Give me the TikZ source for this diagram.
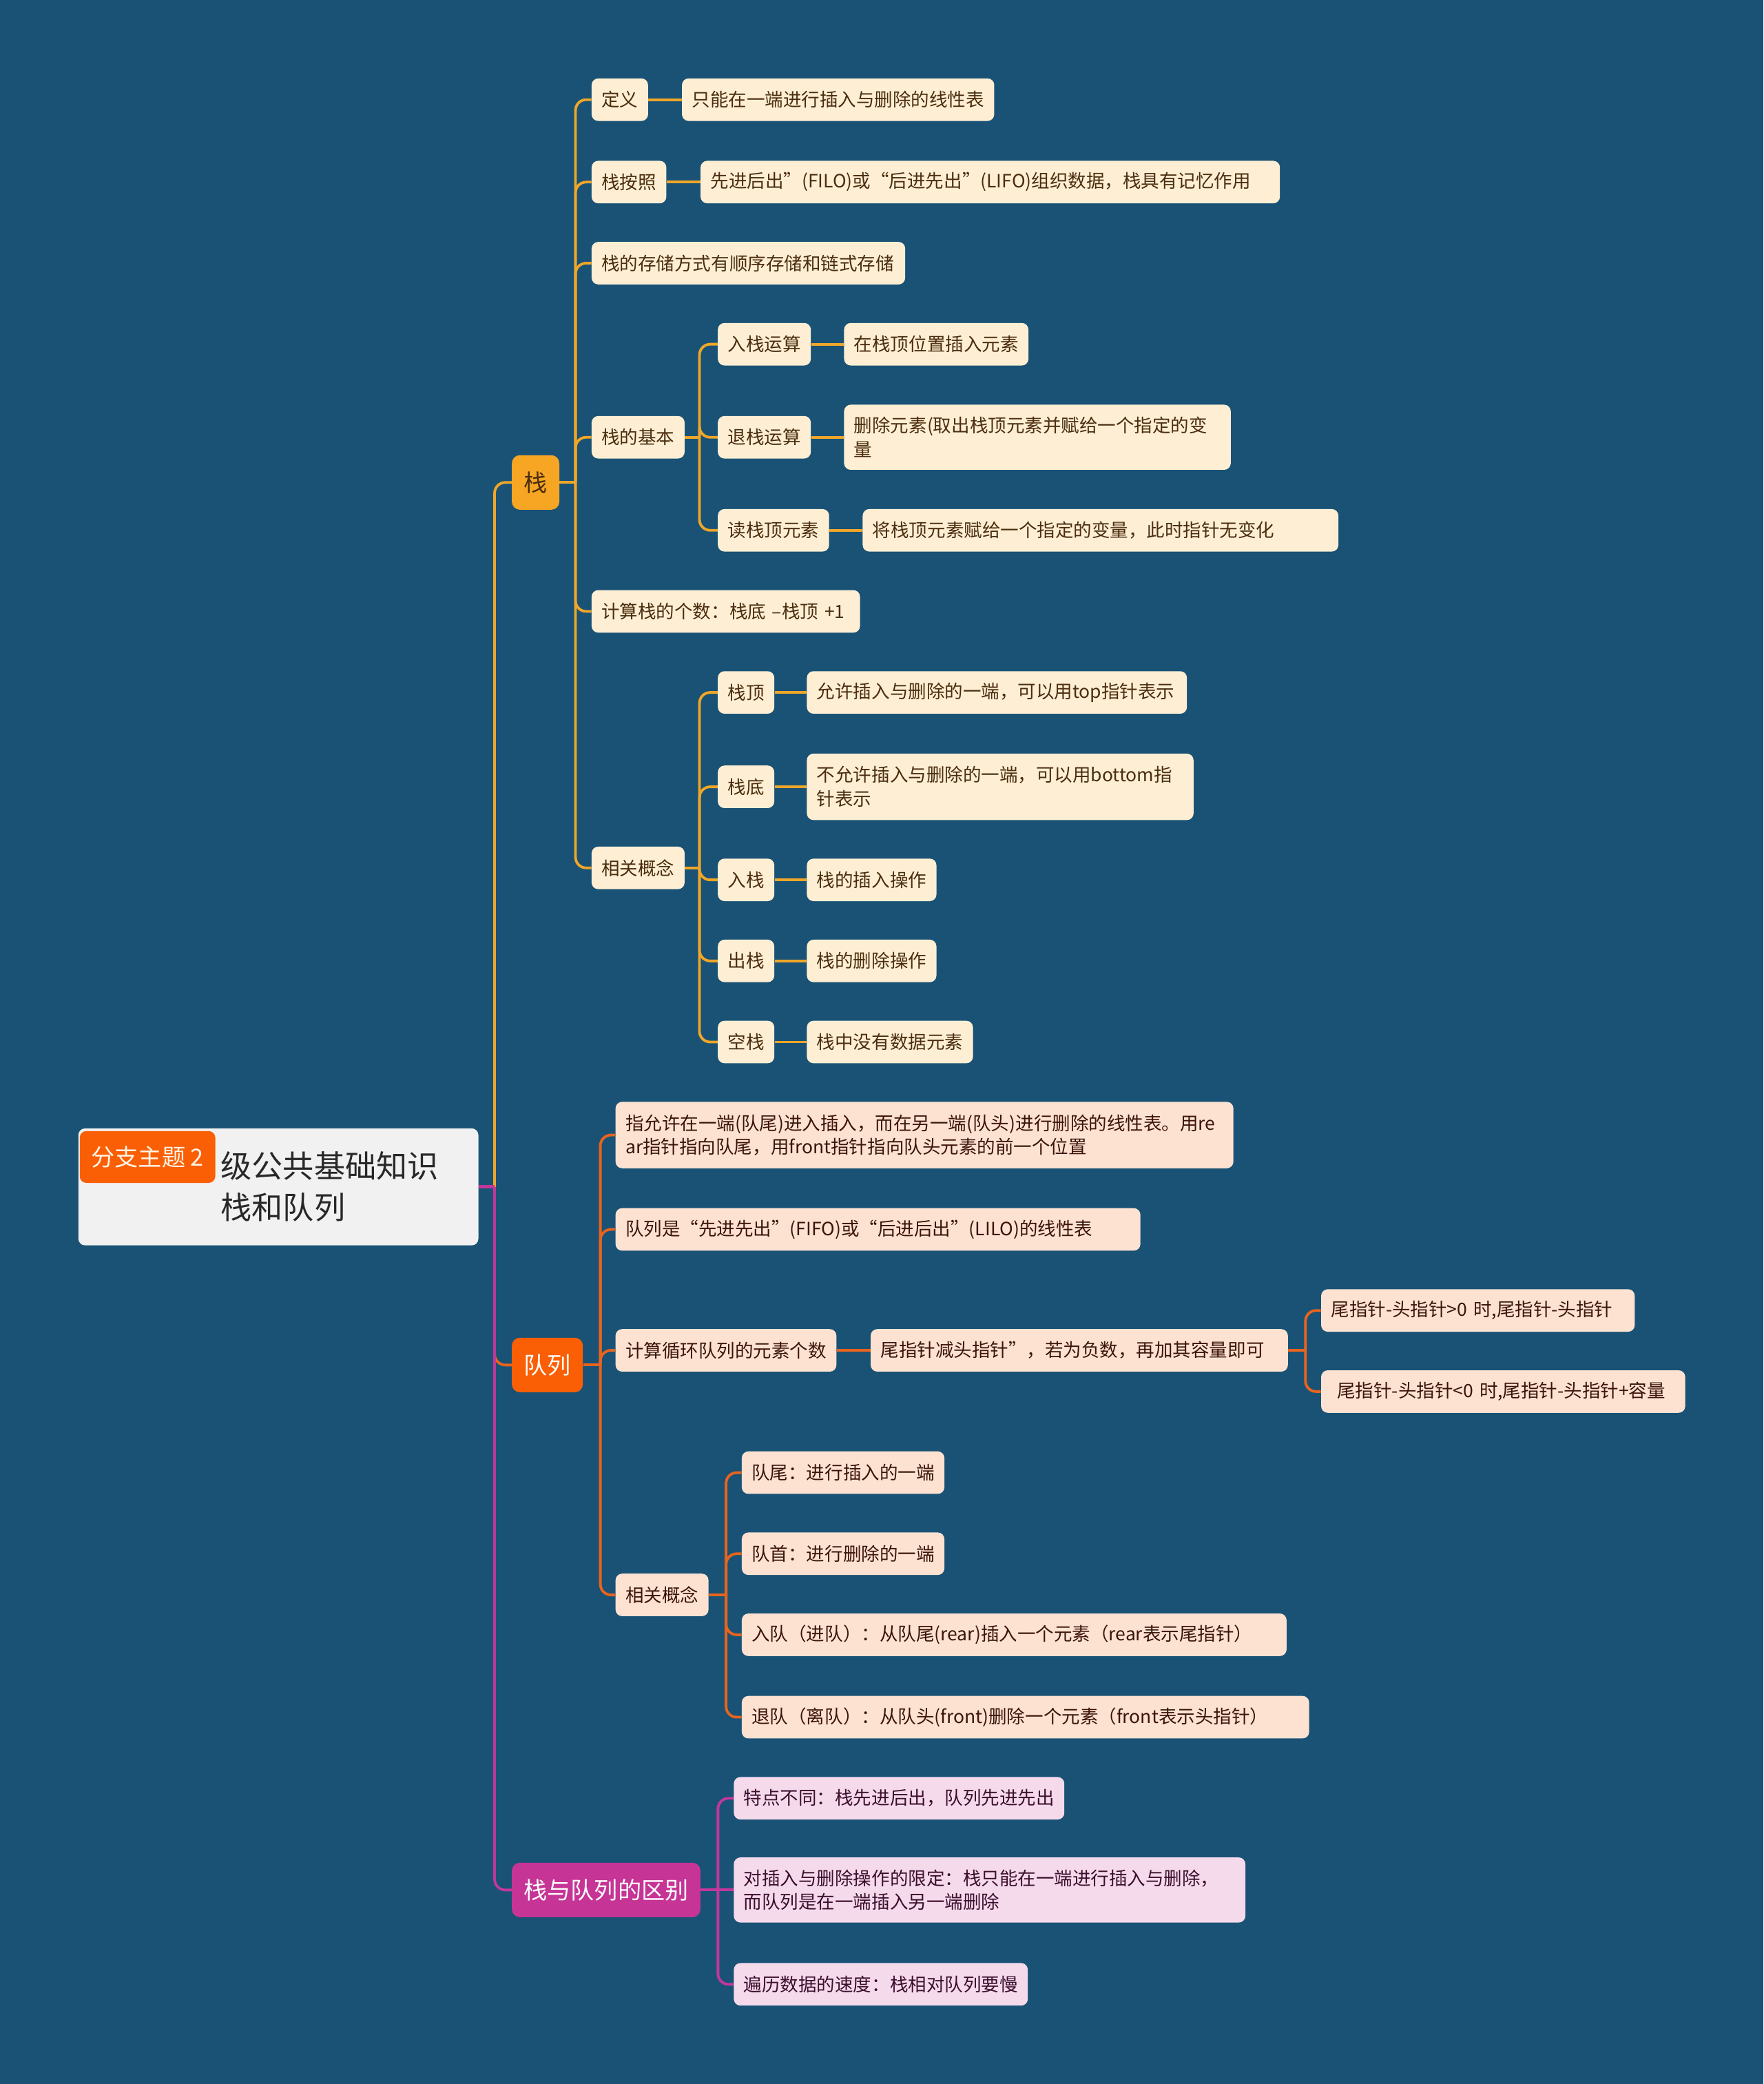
\documentclass[tikz,border=0pt]{standalone}
\usepackage{fontspec}
\setmainfont{Noto Sans CJK SC}
\definecolor{bg}{RGB}{25,82,117}
\definecolor{zline}{RGB}{240,166,40}
\definecolor{zmain}{RGB}{247,166,35}
\definecolor{zleaf}{RGB}{254,239,212}
\definecolor{zink}{RGB}{75,45,15}
\definecolor{qline}{RGB}{232,100,30}
\definecolor{qmain}{RGB}{250,95,5}
\definecolor{qleaf}{RGB}{253,226,210}
\definecolor{qink}{RGB}{60,20,10}
\definecolor{dline}{RGB}{195,55,155}
\definecolor{dmain}{RGB}{198,52,150}
\definecolor{dleaf}{RGB}{245,218,236}
\definecolor{dink}{RGB}{60,15,45}
\definecolor{rootfill}{RGB}{241,241,241}
\definecolor{rootink}{RGB}{40,40,40}
\definecolor{tagink}{RGB}{255,244,230}

\begin{document}
\begin{tikzpicture}[x=1pt,y=-1pt,
    box/.style={rounded corners=5pt,inner xsep=7.5pt,inner ysep=0pt,minimum height=32pt,
      anchor=west,align=left,font=\fontsize{13.75}{18}\selectfont},
    zbox/.style={box,fill=zleaf,text=zink},
    qbox/.style={box,fill=qleaf,text=qink},
    dbox/.style={box,fill=dleaf,text=dink},
    topic/.style={rounded corners=6pt,inner xsep=9pt,inner ysep=0pt,minimum height=41pt,
      anchor=west,font=\fontsize{17.7}{20}\selectfont},
    zl/.style={draw=zline,line width=2pt,rounded corners=8pt},
    ql/.style={draw=qline,line width=2pt,rounded corners=8pt},
    dl/.style={draw=dline,line width=2pt,rounded corners=8pt}]
  \fill[bg] (0,0) rectangle (1327,1568);

  % root
  \node[fill=rootfill,rounded corners=5pt,minimum width=301pt,minimum height=88pt,inner sep=0pt] (root) at (209.5,893) {};
  \node[anchor=west,align=left,inner sep=0pt,text=rootink,font=\fontsize{23.4}{31}\selectfont] (rootT) at (166,893) {级公共基础知识\\栈和队列};
  \node[fill=qmain,rounded corners=5pt,minimum width=102pt,minimum height=39pt,inner sep=0pt,text=tagink,
    font=\fontsize{17.75}{20}\selectfont] (tag) at (111,870.5) {分支主题 2};

  % topics
  \node[topic,fill=zmain,text=zink] (zhan) at (385,363) {栈};
  \node[topic,fill=qmain,text=white] (dui) at (385,1027) {队列};
  \node[topic,fill=dmain,text=white] (qubie) at (385,1422) {栈与队列的区别};

  % stack
  \node[zbox] (dingyi) at (445,75) {定义};
  \node[zbox] (dingyiT) at (513,75) {只能在一端进行插入与删除的线性表};
  \node[zbox] (anzhao) at (445,137) {栈按照};
  \node[zbox,text width=421pt] (anzhaoT) at (527,137) {先进后出”(FILO)或“后进先出”(LIFO)组织数据，栈具有记忆作用};
  \node[zbox,text width=221pt] (cunchu) at (445,198) {栈的存储方式有顺序存储和链式存储};
  \node[zbox] (jiben) at (445,329) {栈的基本};
  \node[zbox] (ruzhan) at (540,259) {入栈运算};
  \node[zbox] (ruzhanT) at (635,259) {在栈顶位置插入元素};
  \node[zbox] (tuizhan) at (540,329) {退栈运算};
  \node[zbox,text width=276pt,minimum height=49pt] (tuizhanT) at (635,329) {删除元素(取出栈顶元素并赋给一个指定的变\\量};
  \node[zbox] (duzhan) at (540,399) {读栈顶元素};
  \node[zbox,text width=343pt] (duzhanT) at (649,399) {将栈顶元素赋给一个指定的变量，此时指针无变化};
  \node[zbox,text width=187pt] (geshu) at (445,460) {计算栈的个数：栈底 –栈顶 +1};
  \node[zbox] (gainian) at (445,653) {相关概念};
  \node[zbox] (zding) at (540,521) {栈顶};
  \node[zbox,text width=271pt] (zdingT) at (607,521) {允许插入与删除的一端，可以用top指针表示};
  \node[zbox] (zdi) at (540,592) {栈底};
  \node[zbox,text width=276pt,minimum height=50pt] (zdiT) at (607,592) {不允许插入与删除的一端，可以用bottom指\\针表示};
  \node[zbox] (jin) at (540,662) {入栈};
  \node[zbox] (jinT) at (607,662) {栈的插入操作};
  \node[zbox] (chu) at (540,723) {出栈};
  \node[zbox] (chuT) at (607,723) {栈的删除操作};
  \node[zbox] (kong) at (540,784) {空栈};
  \node[zbox] (kongT) at (607,784) {栈中没有数据元素};

  % queue
  \node[qbox,text width=450pt,minimum height=50pt] (qdef) at (463,854) {指允许在一端(队尾)进入插入，而在另一端(队头)进行删除的线性表。用re\\ar指针指向队尾，用front指针指向队头元素的前一个位置};
  \node[qbox,text width=380pt] (fifo) at (463,925) {队列是“先进先出”(FIFO)或“后进后出”(LILO)的线性表};
  \node[qbox] (xunhuan) at (463,1016) {计算循环队列的元素个数};
  \node[qbox,text width=299pt] (xunhuanT) at (655,1016) {尾指针减头指针”，若为负数，再加其容量即可};
  \node[qbox,text width=221pt] (dayu) at (994,986) {尾指针-头指针>0 时,尾指针-头指针};
  \node[qbox,text width=259pt] (xiaoyu) at (994,1047) {\ 尾指针-头指针<0 时,尾指针-头指针+容量};
  \node[qbox] (qgainian) at (463,1200) {相关概念};
  \node[qbox] (duiwei) at (558,1108) {队尾：进行插入的一端};
  \node[qbox] (duishou) at (558,1169) {队首：进行删除的一端};
  \node[qbox,text width=395pt] (rudui) at (558,1230) {入队（进队）：从队尾(rear)插入一个元素（rear表示尾指针）};
  \node[qbox,text width=412pt] (tuidui) at (558,1292) {退队（离队）：从队头(front)删除一个元素（front表示头指针）};

  % difference
  \node[dbox] (tedian) at (552,1353) {特点不同：栈先进后出，队列先进先出};
  \node[dbox,text width=370pt,minimum height=49pt] (xianding) at (552,1422) {对插入与删除操作的限定：栈只能在一端进行插入与删除，\\而队列是在一端插入另一端删除};
  \node[dbox] (bianli) at (552,1493) {遍历数据的速度：栈相对队列要慢};

  % trunk points
  \coordinate (rt) at ([xshift=12pt]root.east);
  \coordinate (zt) at ([xshift=12pt]zhan.east);
  \coordinate (jt) at ([xshift=11pt]jiben.east);
  \coordinate (gt) at ([xshift=11pt]gainian.east);
  \coordinate (dt) at ([xshift=13pt]dui.east);
  \coordinate (xt) at ([xshift=13pt]xunhuanT.east);
  \coordinate (qt) at ([xshift=13pt]qgainian.east);
  \coordinate (bt) at ([xshift=13pt]qubie.east);

  % stack lines
  \draw[zl] (rt) |- (zhan.west);
  \draw[zl] (zhan.east) -- (zt);
  \foreach \c in {dingyi,anzhao,cunchu,jiben,geshu,gainian}
    \draw[zl] (zt) |- (\c.west);
  \draw[zl] (jiben.east) -- (jt);
  \foreach \c in {ruzhan,tuizhan,duzhan}
    \draw[zl] (jt) |- (\c.west);
  \draw[zl] (gainian.east) -- (gt);
  \foreach \c in {zding,zdi,jin,chu,kong}
    \draw[zl] (gt) |- (\c.west);
  \foreach \a/\b in {dingyi/dingyiT,anzhao/anzhaoT,ruzhan/ruzhanT,tuizhan/tuizhanT,duzhan/duzhanT,
      zding/zdingT,zdi/zdiT,jin/jinT,chu/chuT,kong/kongT}
    \draw[zl] (\a.east) -- (\b.west);

  % queue lines
  \draw[ql] (rt) |- (dui.west);
  \draw[ql] (dui.east) -- (dt);
  \foreach \c in {qdef,fifo,xunhuan,qgainian}
    \draw[ql] (dt) |- (\c.west);
  \draw[ql] (xunhuan.east) -- (xunhuanT.west);
  \draw[ql] (xunhuanT.east) -- (xt);
  \foreach \c in {dayu,xiaoyu}
    \draw[ql] (xt) |- (\c.west);
  \draw[ql] (qgainian.east) -- (qt);
  \foreach \c in {duiwei,duishou,rudui,tuidui}
    \draw[ql] (qt) |- (\c.west);

  % difference lines
  \draw[dl,line width=2.6pt] (root.east) -- (rt);
  \draw[dl] (rt) |- (qubie.west);
  \draw[dl] (qubie.east) -- (bt);
  \foreach \c in {tedian,bianli}
    \draw[dl] (bt) |- (\c.west);
  \draw[dl] (qubie.east) -- (xianding.west);
\end{tikzpicture}
\end{document}
